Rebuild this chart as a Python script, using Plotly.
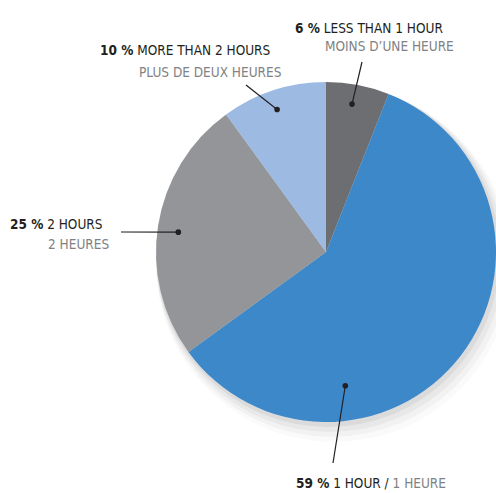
import math
import plotly.graph_objects as go

# ---- data ----
labels_en = ["LESS THAN 1 HOUR", "1 HOUR", "2 HOURS", "MORE THAN 2 HOURS"]
labels_fr = ["MOINS D’UNE HEURE", "1 HEURE", "2 HEURES", "PLUS DE DEUX HEURES"]
values = [6, 59, 25, 10]
colors = ["#6d6e71", "#3d88c8", "#939598", "#9dbbe2"]

# ---- layout constants (pixels) ----
W, H = 496, 493
CX, CY, R = 327, 252, 171
FONT = "Liberation Sans Narrow, DejaVu Sans Condensed, Arial Narrow, sans-serif"
FS = 13.5
DARK = "#231f20"
GREY = "#808285"

def px(x):
    return x / W

def py(y):
    return 1 - y / H

fig = go.Figure()
fig.add_trace(go.Pie(
    labels=labels_en, values=values, sort=False, direction="clockwise", rotation=0,
    marker=dict(colors=colors, line=dict(width=0)),
    textinfo="none", hoverinfo="label+percent", showlegend=False,
    domain=dict(x=[px(CX - R), min(1, px(CX + R))], y=[py(CY + R), py(CY - R)]),
))

shapes = []
# soft shadow behind the pie
for (dx, dy, dr, a) in [(1, 3, 1, 0.05), (3, 6, 3, 0.04), (5, 9, 5, 0.03), (7, 12, 7, 0.02)]:
    shapes.append(dict(type="circle", xref="paper", yref="paper", layer="below",
                       x0=px(CX + dx - R - dr), x1=px(CX + dx + R + dr),
                       y0=py(CY + dy + R + dr), y1=py(CY + dy - R - dr),
                       fillcolor=f"rgba(0,0,0,{a})", line=dict(width=0)))

# leader lines: dot given in polar (angle clockwise from top, radius px), end point in px
dot_polar = [(9.6, 150), (172.2, 135), (277.6, 150), (340.7, 151)]
line_end = [(362, 62), (333, 463), (121, 232), (246, 85)]
for (ang, rr), (ex, ey) in zip(dot_polar, line_end):
    dx = CX + rr * math.sin(math.radians(ang))
    dy = CY - rr * math.cos(math.radians(ang))
    shapes.append(dict(type="line", xref="paper", yref="paper", layer="above",
                       x0=px(dx), y0=py(dy), x1=px(ex), y1=py(ey),
                       line=dict(color=DARK, width=1.2)))
    rd = 2.8
    shapes.append(dict(type="circle", xref="paper", yref="paper", layer="above",
                       x0=px(dx - rd), x1=px(dx + rd), y0=py(dy + rd), y1=py(dy - rd),
                       fillcolor=DARK, line=dict(width=0)))

pct = [f"<b>{v} %</b>" for v in values]
texts = [
    (f"{pct[0]} {labels_en[0]}", DARK, 293, 27.5, "left"),
    (labels_fr[0], GREY, 323, 46, "left"),
    (f"{pct[3]} {labels_en[3]}", DARK, 98, 50, "left"),
    (labels_fr[3], GREY, 137, 72, "left"),
    (f"{pct[2]} {labels_en[2]}", DARK, 105, 224, "right"),
    (labels_fr[2], GREY, 111, 244, "right"),
    (f"{pct[1]} {labels_en[1]} / <span style='color:{GREY}'>{labels_fr[1]}</span>", DARK, 294, 483, "left"),
]
annotations = []
for t, c, x, y, anc in texts:
    annotations.append(dict(text=t, x=px(x), y=py(y), xref="paper", yref="paper",
                            xanchor=anc, yanchor="middle", showarrow=False,
                            font=dict(family=FONT, size=FS, color=c)))

fig.update_layout(
    width=W, height=H, margin=dict(l=0, r=0, t=0, b=0),
    paper_bgcolor="white", plot_bgcolor="white",
    shapes=shapes, annotations=annotations,
)
fig.write_html("out.html", config={"displayModeBar": False},
               post_script="document.body.style.margin='0';")
